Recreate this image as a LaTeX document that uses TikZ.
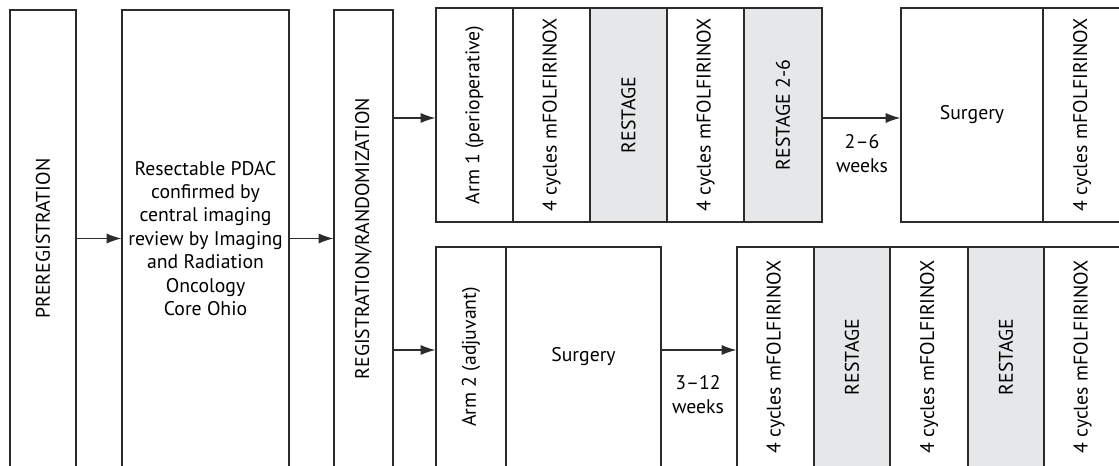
\documentclass[tikz,border=0pt]{standalone}
\usepackage{fontspec}
\usepackage{graphicx}
\setmainfont{PT Sans}
\usetikzlibrary{arrows.meta}
\definecolor{restagegray}{HTML}{E6E7E8}
\definecolor{linecol}{HTML}{2B2B2B}
\tikzset{
  cell/.style={draw=linecol, line width=0.9pt, rectangle, inner sep=0pt, align=center,
    font=\fontsize{14.8}{17.6}\selectfont},
  graycell/.style={cell, fill=restagegray},
  arr/.style={draw=linecol, line width=0.9pt, -{Latex[length=11pt,width=7.5pt]}},
  lbl/.style={align=center, inner sep=0pt, font=\fontsize{14.8}{17.6}\selectfont}
}
\newcommand{\rt}[1]{\rotatebox{90}{#1}}
\begin{document}
\begin{tikzpicture}[x=0.75pt,y=-0.75pt]
\useasboundingbox (0,0) rectangle (1119,466);
\clip (0,0) rectangle (1119,466);
% left column boxes (y 10..467)
\node[cell, minimum width=66*0.75pt, minimum height=457*0.75pt] (pre) at (43,238.5) {\rt{PREREGISTRATION}};
\node[cell, minimum width=167*0.75pt, minimum height=457*0.75pt] (res) at (205.5,238.5)
  {Resectable PDAC\\confirmed by\\central imaging\\review by Imaging\\and Radiation\\Oncology\\Core Ohio};
\node[cell, minimum width=59*0.75pt, minimum height=457*0.75pt] (reg) at (363.5,238.5) {\rt{REGISTRATION/RANDOMIZATION}};
% top row (y 8..222)
\node[cell, minimum width=77*0.75pt, minimum height=214*0.75pt] (arm1) at (474.5,115) {\rt{Arm 1 (perioperative)}};
\node[cell, minimum width=77*0.75pt, minimum height=214*0.75pt] (t1) at (551.5,115) {\rt{4 cycles mFOLFIRINOX}};
\node[graycell, minimum width=77*0.75pt, minimum height=214*0.75pt] (t2) at (628.5,115) {\rt{RESTAGE}};
\node[cell, minimum width=77*0.75pt, minimum height=214*0.75pt] (t3) at (705.5,115) {\rt{4 cycles mFOLFIRINOX}};
\node[graycell, minimum width=78*0.75pt, minimum height=214*0.75pt] (t4) at (783,115) {\rt{RESTAGE 2-6}};
\node[cell, minimum width=142*0.75pt, minimum height=214*0.75pt] (surg1) at (972,115) {Surgery};
\node[cell, minimum width=78*0.75pt, minimum height=214*0.75pt] (t5) at (1082,115) {\rt{4 cycles mFOLFIRINOX}};
% bottom row (y 247..467)
\node[cell, minimum width=70*0.75pt, minimum height=220*0.75pt] (arm2) at (471,357) {\rt{Arm 2 (adjuvant)}};
\node[cell, minimum width=155*0.75pt, minimum height=220*0.75pt] (surg2) at (583.5,357) {Surgery};
\node[cell, minimum width=77*0.75pt, minimum height=220*0.75pt] (b1) at (775.5,357) {\rt{4 cycles mFOLFIRINOX}};
\node[graycell, minimum width=76*0.75pt, minimum height=220*0.75pt] (b2) at (852,357) {\rt{RESTAGE}};
\node[cell, minimum width=78*0.75pt, minimum height=220*0.75pt] (b3) at (929,357) {\rt{4 cycles mFOLFIRINOX}};
\node[graycell, minimum width=76*0.75pt, minimum height=220*0.75pt] (b4) at (1006,357) {\rt{RESTAGE}};
\node[cell, minimum width=77*0.75pt, minimum height=220*0.75pt] (b5) at (1082.5,357) {\rt{4 cycles mFOLFIRINOX}};
% arrows
\draw[arr] (pre.east) -- (res.west);
\draw[arr] (res.east) -- (reg.west);
\draw[arr] (reg.east |- 0,118) -- (arm1.west |- 0,118);
\draw[arr] (reg.east |- 0,350) -- (arm2.west |- 0,350);
\draw[arr] (t4.east |- 0,118) -- (surg1.west |- 0,118);
\draw[arr] (surg2.east |- 0,350) -- (b1.west |- 0,350);
% labels
\node[lbl] (w1) at (862,153.5) {2--6\\weeks};
\node[lbl] (w2) at (698,394.5) {3--12\\weeks};
\end{tikzpicture}
\end{document}
